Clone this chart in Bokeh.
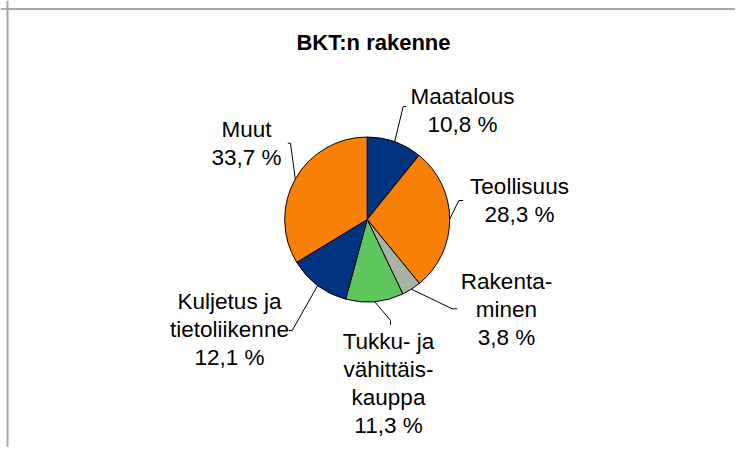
import numpy as np
from bokeh.plotting import figure
from bokeh.models import Range1d, Span
from bokeh.embed import file_html
from bokeh.resources import INLINE
from bokeh.core.properties import value

# ---- data ----
title = "BKT:n rakenne"
categories = ["Maatalous", "Teollisuus", "Rakenta-\nminen",
              "Tukku- ja\nvähittäis-\nkauppa", "Kuljetus ja\ntietoliikenne", "Muut"]
shares = [10.8, 28.3, 3.8, 11.3, 12.1, 33.7]
colors = ["#003380", "#F98006", "#A7B4A5", "#5EC65E", "#003380", "#F98006"]

# ---- layout (screenshot pixel coordinates) ----
W, H = 735, 447
CX, CY, R = 366.7, 219.0, 82.5
label_x = [462, 519, 506, 388, 229, 246]
label_y = [110, 200, 309, 383, 329, 143]
elbow_x = [402.7, 458.3, 451.7, 390.0, 291.7, 290.0]
elbow_y = [106.0, 200.0, 308.3, 320.0, 330.0, 142.7]
end_x = [405.7, 462.7, 456.7, 390.0, 288.3, 287.3]
end_y = [106.0, 200.0, 308.3, 324.3, 330.0, 142.7]


def dx(px):
    return px


def dy(py):
    return H - py


vals = np.array(shares, dtype=float)
frac = vals / vals.sum()
cum = np.concatenate([[0.0], np.cumsum(frac)])
start = np.pi / 2 - 2 * np.pi * cum[:-1]
end = np.pi / 2 - 2 * np.pi * cum[1:]
mid = (start + end) / 2

p = figure(width=W, height=H, x_range=Range1d(0, W), y_range=Range1d(0, H),
           min_border=0, toolbar_location=None, output_backend="svg",
           x_axis_type=None, y_axis_type=None)
p.grid.visible = False
p.outline_line_color = None
p.background_fill_color = "white"
p.border_fill_color = "white"

# chart border (left and top visible)
p.add_layout(Span(location=dx(7), dimension="height", line_color="#a8a8a8", line_width=2))
p.add_layout(Span(location=dy(8.5), dimension="width", line_color="#a8a8a8", line_width=2))

# pie
p.wedge(x=dx(CX), y=dy(CY), radius=R, start_angle=list(start), end_angle=list(end),
        direction="clock", fill_color=colors, line_color="black", line_width=1)

# leader lines
xs, ys = [], []
for i in range(len(vals)):
    sx = dx(CX) + R * np.cos(mid[i])
    sy = dy(CY) + R * np.sin(mid[i])
    xs.append([sx, dx(elbow_x[i]), dx(end_x[i])])
    ys.append([sy, dy(elbow_y[i]), dy(end_y[i])])
p.multi_line(xs=xs, ys=ys, line_color="black", line_width=1)

# labels
texts = [f"{c}\n{v:.1f} %".replace(".", ",") for c, v in zip(categories, shares)]
p.text(x=[dx(v) for v in label_x], y=[dy(v) for v in label_y], text=texts,
       text_align="center", text_baseline="middle",
       text_font=value("Liberation Sans"), text_font_size="22.5px",
       text_line_height=1.13, text_color="black")

# title
p.text(x=[dx(373)], y=[dy(42)], text=[title], text_align="center",
       text_baseline="middle", text_font=value("Liberation Sans"),
       text_font_size="22px", text_font_style="bold", text_color="black")

open("out.html", "w").write(file_html(p, INLINE))
